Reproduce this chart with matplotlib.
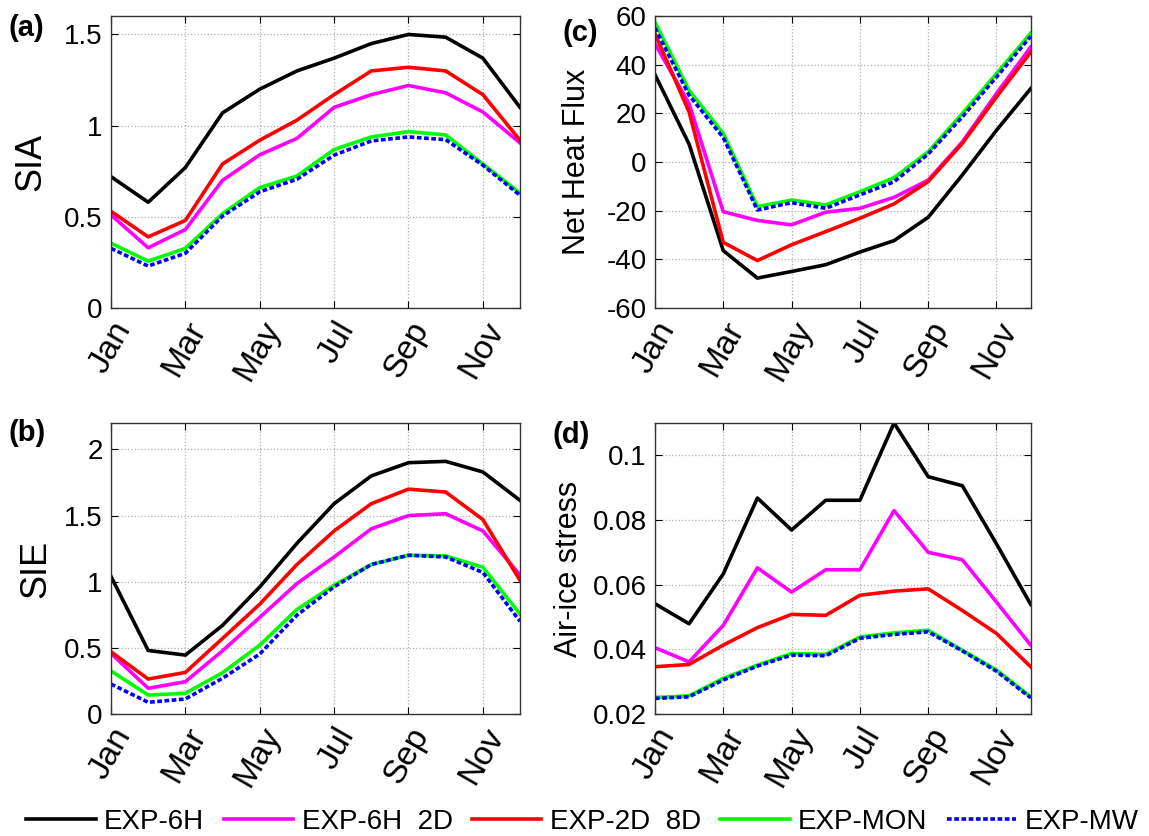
import numpy as np
import matplotlib
matplotlib.use("Agg")
import matplotlib.pyplot as plt

plt.rcParams['font.family'] = ['Liberation Sans', 'DejaVu Sans']

months = np.arange(1, 13)
tick_months = [1, 3, 5, 7, 9, 11]
tick_names = ["Jan", "Mar", "May", "Jul", "Sep", "Nov"]
names = ["EXP-6H", "EXP-6H  2D", "EXP-2D  8D", "EXP-MON", "EXP-MW"]

# sea ice area
sia_6h = [0.72, 0.58, 0.77, 1.07, 1.20, 1.30, 1.37, 1.45, 1.50, 1.485, 1.37, 1.10]
sia_6h2d = [0.51, 0.33, 0.43, 0.70, 0.84, 0.93, 1.10, 1.17, 1.22, 1.18, 1.075, 0.905]
sia_2d8d = [0.53, 0.39, 0.48, 0.79, 0.92, 1.03, 1.17, 1.30, 1.32, 1.30, 1.17, 0.92]
sia_mon = [0.355, 0.257, 0.327, 0.518, 0.66, 0.724, 0.869, 0.938, 0.967, 0.949, 0.79, 0.63]
sia_mw = [0.327, 0.23, 0.30, 0.504, 0.637, 0.706, 0.838, 0.916, 0.938, 0.923, 0.783, 0.618]

# sea ice extent
sie_6h = [1.04, 0.48, 0.445, 0.67, 0.96, 1.29, 1.59, 1.80, 1.90, 1.91, 1.83, 1.615]
sie_6h2d = [0.458, 0.194, 0.244, 0.478, 0.73, 0.986, 1.187, 1.40, 1.50, 1.514, 1.384, 1.05]
sie_2d8d = [0.47, 0.264, 0.314, 0.571, 0.83, 1.13, 1.384, 1.59, 1.70, 1.678, 1.47, 1.01]
sie_mon = [0.325, 0.143, 0.156, 0.312, 0.52, 0.79, 0.974, 1.13, 1.20, 1.195, 1.11, 0.755]
sie_mw = [0.226, 0.088, 0.113, 0.27, 0.453, 0.747, 0.961, 1.13, 1.20, 1.187, 1.07, 0.70]

# net heat flux
nhf_6h = [36, 7.4, -36.4, -47.7, -45, -42.2, -37, -32.3, -22.7, -5.3, 13.1, 30.2]
nhf_6h2d = [48.7, 24, -20.4, -24, -25.8, -20.6, -19, -14.5, -7.4, 8.3, 28.2, 47.3]
nhf_2d8d = [52.8, 20.6, -33, -40.5, -34, -28.6, -23.1, -17.2, -8, 7.7, 26.8, 45.2]
nhf_mon = [57.6, 29.5, 11.8, -18.3, -15.6, -17.6, -12.2, -6.4, 4.2, 20, 36.4, 53]
nhf_mw = [55.2, 27.5, 10.1, -19.7, -16.7, -19, -13.5, -8.1, 3.3, 18.6, 35, 51.7]

# air-ice stress
tau_6h = [0.0541, 0.0479, 0.0633, 0.0868, 0.0769, 0.0861, 0.0861, 0.110, 0.0934, 0.0906, 0.0726, 0.0539]
tau_6h2d = [0.0405, 0.0361, 0.0474, 0.0652, 0.0577, 0.0646, 0.0646, 0.0829, 0.070, 0.0677, 0.0546, 0.0413]
tau_2d8d = [0.0346, 0.0353, 0.0413, 0.0467, 0.0508, 0.0505, 0.0567, 0.058, 0.0587, 0.052, 0.0449, 0.0346]
tau_mon = [0.0251, 0.0256, 0.031, 0.0351, 0.0387, 0.0384, 0.0438, 0.0451, 0.0459, 0.0397, 0.0336, 0.0253]
tau_mw = [0.0248, 0.0253, 0.0305, 0.0348, 0.0382, 0.038, 0.0434, 0.0446, 0.0454, 0.0395, 0.0332, 0.025]

colors = ["black", "#ff00ff", "#ff0000", "#00ff00", "#0000ff"]

W, H = 1149, 836
fig = plt.figure(figsize=(W / 100, H / 100), dpi=100)

# label, ylabel, ylabel size, axes rect, ylim, yticks, yticklabels, series, ylabel x, panel label pos (px)
panels = [
    ("(a)", "SIA", 26, [0.0966, 0.6316, 0.356, 0.349], (0, 1.6), [0, 0.5, 1, 1.5],
     ["0", "0.5", "1", "1.5"], [sia_6h, sia_6h2d, sia_2d8d, sia_mon, sia_mw], -0.154, (8, 14)),
    ("(b)", "SIE", 26, [0.0966, 0.146, 0.356, 0.348], (0, 2.2), [0, 0.5, 1, 1.5, 2],
     ["0", "0.5", "1", "1.5", "2"], [sie_6h, sie_6h2d, sie_2d8d, sie_mon, sie_mw], -0.142, (8, 419)),
    ("(c)", "Net Heat Flux", 22, [0.570, 0.6316, 0.327, 0.349], (-60, 60), np.arange(-60, 61, 20),
     [str(v) for v in range(-60, 61, 20)], [nhf_6h, nhf_6h2d, nhf_2d8d, nhf_mon, nhf_mw], -0.168, (563, 19)),
    ("(d)", "Air-ice stress", 22, [0.570, 0.146, 0.327, 0.348], (0.02, 0.11), [0.02, 0.04, 0.06, 0.08, 0.1],
     ["0.02", "0.04", "0.06", "0.08", "0.1"], [tau_6h, tau_6h2d, tau_2d8d, tau_mon, tau_mw], -0.19, (553, 421)),
]

handles = []
for label, ylab, ysize, pos, ylim, yt, ytl, series, ylx, lpos in panels:
    ax = fig.add_axes(pos)
    hs = []
    for i, (vals, c) in enumerate(zip(series, colors)):
        if i == 4:
            h, = ax.plot(months, vals, color=c, lw=2.6, dashes=(1.3, 0.7))
        else:
            h, = ax.plot(months, vals, color=c, lw=2.6)
        hs.append(h)
    handles = hs
    ax.set_xlim(1, 12)
    ax.set_ylim(*ylim)
    ax.set_xticks(tick_months)
    ax.set_xticklabels(tick_names, rotation=60, ha="right", rotation_mode="anchor", fontsize=24)
    ax.set_yticks(yt)
    ax.set_yticklabels(ytl)
    ax.tick_params(direction="in", length=5, top=True, right=True,
                   labeltop=False, labelright=False, pad=6)
    ax.tick_params(axis="y", labelsize=20)
    ax.grid(True, color="#b0b0b0", linestyle=":", linewidth=0.9)
    for s in ax.spines.values():
        s.set_color("#333333")
        s.set_linewidth(1.0)
    ax.set_ylabel(ylab, fontsize=ysize)
    ax.yaxis.set_label_coords(ylx, 0.5)
    fig.text(lpos[0] / W, 1 - lpos[1] / H, label,
             fontsize=21, fontweight="bold", va="top", ha="left")

fig.legend(handles, names, loc="center", ncol=5, frameon=False, fontsize=20,
           bbox_to_anchor=(0.507, 1 - 822 / H), handlelength=2.5, columnspacing=0.7,
           handletextpad=0.3)

fig.savefig("out.png", dpi=100)
